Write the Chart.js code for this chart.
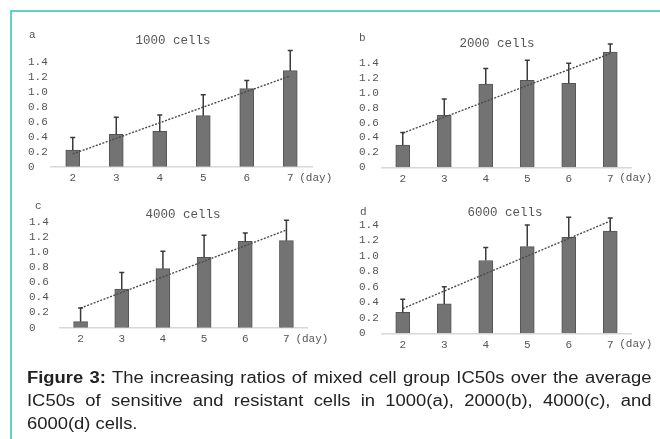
<!DOCTYPE html>
<html>
<head>
<meta charset="utf-8">
<script src="https://cdn.jsdelivr.net/npm/chart.js@4.4.1/dist/chart.umd.min.js"></script>
<style>
  body { margin:0; background:#fff; }
  #wrap { position:relative; width:660px; height:439px; overflow:hidden; }
  #frame { position:absolute; left:10px; top:10px; width:660px; height:440px;
           border-top:2px solid #62d3c2; border-left:2px solid #62d3c2; }
  canvas { position:absolute; left:0; top:0; }
  #caption { position:absolute; left:27px; top:366px; width:543px;
             transform:scaleX(1.15); transform-origin:0 0;
             font-family:"Liberation Sans", Arial, sans-serif; font-size:16px;
             line-height:23px; color:#222; }
  #caption div { text-align:justify; text-align-last:justify; white-space:nowrap; }
  #caption div.last { text-align-last:left; }
</style>
</head>
<body>
<div id="wrap">
  <div id="frame"></div>
  <canvas id="ca" width="660" height="439"></canvas>
  <canvas id="cb" width="660" height="439"></canvas>
  <canvas id="cc" width="660" height="439"></canvas>
  <canvas id="cd" width="660" height="439"></canvas>
  <div id="caption">
    <div><b>Figure 3:</b> The increasing ratios of mixed cell group IC50s over the average</div>
    <div>IC50s of sensitive and resistant cells in 1000(a), 2000(b), 4000(c), and</div>
    <div class="last">6000(d) cells.</div>
  </div>
</div>
<script>
// data
const days = ['2', '3', '4', '5', '6', '7'];
const yTicks = [0, 0.2, 0.4, 0.6, 0.8, 1.0, 1.2, 1.4];

const meanA = [0.22, 0.43, 0.47, 0.68, 1.04, 1.28];
const errA  = [0.39, 0.66, 0.69, 0.96, 1.15, 1.55];
const trendA = [0.17, 1.21];

const meanB = [0.30, 0.70, 1.12, 1.17, 1.13, 1.55];
const errB  = [0.47, 0.92, 1.33, 1.44, 1.40, 1.66];
const trendB = [0.46, 1.53];

const meanC = [0.08, 0.51, 0.78, 0.93, 1.14, 1.15];
const errC  = [0.26, 0.73, 1.01, 1.22, 1.25, 1.42];
const trendC = [0.26, 1.29];

const meanD = [0.27, 0.38, 0.94, 1.12, 1.24, 1.32];
const errD  = [0.44, 0.60, 1.11, 1.40, 1.50, 1.49];
const trendD = [0.32, 1.45];

const mono = '"Liberation Mono", "Courier New", monospace';
const W = 660, H = 439, XH = 30, YMAX = 1.7;

// upper error bars + panel letter, title and "(day)"
const extras = {
  id: 'extras',
  afterDatasetsDraw(chart, args, opts) {
    const ctx = chart.ctx, x = chart.scales.x, y = chart.scales.y;
    ctx.save();
    ctx.strokeStyle = '#3a3a3a';
    ctx.lineWidth = 1.5;
    opts.err.forEach((e, i) => {
      const px = x.getPixelForValue(i);
      const y0 = y.getPixelForValue(opts.mean[i]);
      const y1 = y.getPixelForValue(e);
      ctx.beginPath();
      ctx.moveTo(px, y0); ctx.lineTo(px, y1);
      ctx.moveTo(px - 2.5, y1); ctx.lineTo(px + 2.5, y1);
      ctx.stroke();
    });
    ctx.fillStyle = '#555';
    ctx.textBaseline = 'middle';
    ctx.font = '11px ' + mono;
    ctx.textAlign = 'left';
    ctx.fillText(opts.letter, opts.lx, opts.ly);
    ctx.fillText('(day)', x.getPixelForValue(5) + 9, chart.chartArea.bottom + 11);
    ctx.font = '12.5px ' + mono;
    ctx.textAlign = 'center';
    ctx.fillText(opts.title, opts.tx, opts.ty);
    ctx.restore();
  }
};

function panel(id, letter, title, mean, err, trend, area) {
  const top = area.base - YMAX * area.ppu;
  const yw = area.left - area.labelX;
  new Chart(document.getElementById(id), {
    type: 'bar',
    data: {
      labels: days,
      datasets: [{
        type: 'line',
        data: [trend[0], null, null, null, null, trend[1]],
        spanGaps: true,
        borderColor: '#4a4a4a',
        borderWidth: 1.4,
        borderDash: [2, 1.5],
        pointRadius: 0,
        order: 0
      }, {
        data: mean,
        backgroundColor: '#737373',
        borderColor: '#555',
        borderWidth: 1,
        barThickness: 14,
        order: 1
      }]
    },
    options: {
      responsive: false,
      animation: false,
      events: [],
      layout: { padding: {
        left: area.labelX,
        right: W - area.right,
        top: top,
        bottom: H - area.base - XH
      } },
      plugins: {
        legend: { display: false },
        tooltip: { enabled: false },
        extras: { mean: mean, err: err, letter: letter, title: title,
                  lx: area.lx, ly: area.ly, tx: area.tx, ty: area.ty }
      },
      scales: {
        x: {
          offset: true,
          grid: { display: false, drawTicks: false },
          border: { display: true, color: '#d8d8d8', width: 1.5 },
          ticks: { color: '#555', font: { family: mono, size: 11 }, padding: 5,
                   maxRotation: 0 },
          afterFit: s => { s.height = XH; }
        },
        y: {
          min: 0, max: YMAX,
          grid: { display: false, drawTicks: false },
          border: { display: false },
          afterBuildTicks: ax => { ax.ticks = yTicks.map(v => ({ value: v })); },
          ticks: { color: '#555', font: { family: mono, size: 11 }, padding: 4,
                   crossAlign: 'far',
                   callback: v => v === 0 ? '0' : v.toFixed(1) },
          afterFit: s => { s.width = yw; }
        }
      }
    },
    plugins: [extras]
  });
}

panel('ca', 'a', '1000 cells', meanA, errA, trendA,
  { labelX: 28, left: 51, right: 312, base: 166.7, ppu: 75.0, lx: 29, ly: 35, tx: 173, ty: 41 });
panel('cb', 'b', '2000 cells', meanB, errB, trendB,
  { labelX: 359, left: 382, right: 631, base: 167.3, ppu: 74.3, lx: 359, ly: 38, tx: 497, ty: 44 });
panel('cc', 'c', '4000 cells', meanC, errC, trendC,
  { labelX: 29, left: 60, right: 307, base: 327.7, ppu: 75.7, lx: 35, ly: 206, tx: 183, ty: 215 });
panel('cd', 'd', '6000 cells', meanD, errD, trendD,
  { labelX: 359, left: 382, right: 631, base: 333.3, ppu: 77.4, lx: 360, ly: 212, tx: 505, ty: 213 });
</script>
</body>
</html>
